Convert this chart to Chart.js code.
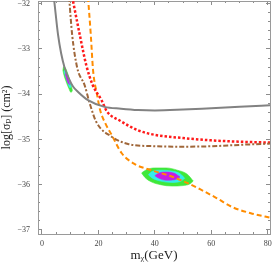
<!DOCTYPE html>
<html><head><meta charset="utf-8">
<script src="https://cdn.jsdelivr.net/npm/chart.js@4.4.0/dist/chart.umd.min.js"></script>
<style>html,body{margin:0;padding:0;background:#fff;}#c{display:block;}</style>
</head><body>
<canvas id="c" width="273" height="264"></canvas>
<script>
// ---- tick values ----
const xMajorTicks = [0, 20, 40, 60, 80];
const xMinorTicks = [0, 5, 10, 15, 20, 25, 30, 35, 40, 45, 50, 55, 60, 65, 70, 75, 80];
const yMajorTicks = [-37, -36, -35, -34, -33, -32];
const yMinorTicks = [-37, -36.8, -36.6, -36.4, -36.2, -36, -35.8, -35.6, -35.4, -35.2, -35,
  -34.8, -34.6, -34.4, -34.2, -34, -33.8, -33.6, -33.4, -33.2, -33, -32.8, -32.6, -32.4, -32.2, -32];

// ---- curves (mass in GeV, log sigma) ----
const grayMass = [4.2, 4.8, 5.7, 6.8, 8.05, 9.5, 11, 12.8, 16.3, 22.2, 28, 34, 40, 50, 60, 70, 81.5];
const grayLog  = [-31.85, -32.2, -32.69, -33.1, -33.42, -33.65, -33.83, -33.95, -34.13, -34.28, -34.32, -34.35, -34.36, -34.34, -34.31, -34.28, -34.24];

const brownMass = [9.6, 10.7, 12.5, 15.1, 16.9, 19.3, 24.7, 30.5, 40, 50, 60, 70, 81.5];
const brownLog  = [-31.85, -32.69, -33.42, -33.8, -34.2, -34.62, -34.94, -35.1, -35.15, -35.16, -35.15, -35.12, -35.09];

const redMass = [10.7, 13.4, 15.7, 18, 21, 23, 27.5, 34.1, 40.1, 50, 60, 70, 81.5];
const redLog  = [-31.85, -32.69, -33.36, -33.8, -34.12, -34.38, -34.58, -34.8, -34.9, -34.97, -35.02, -35.05, -35.07];

const orangeMass = [16.3, 17.3, 18.1, 19.5, 20.6, 22.5, 24.7, 28.2, 33, 37.7, 45, 50, 56, 62, 67.6, 74, 81.5];
const orangeLog  = [-31.85, -32.69, -33.47, -34.0, -34.35, -34.65, -34.9, -35.3, -35.55, -35.66, -35.8, -35.92, -36.1, -36.3, -36.5, -36.63, -36.74];

// ---- confidence regions: upper / lower boundaries ----
const bigGreenUpX = [35.3, 37, 40, 44, 48, 51.5, 53.6];
const bigGreenUpY = [-35.74, -35.67, -35.63, -35.63, -35.68, -35.77, -35.92];
const bigGreenLoX = [35.3, 36.5, 38.5, 42, 46, 50, 52.5, 53.6];
const bigGreenLoY = [-35.74, -35.84, -35.93, -36.0, -36.03, -36.02, -35.98, -35.92];
const bigCyanUpX = [37.7, 39, 42, 46, 49, 50.6];
const bigCyanUpY = [-35.78, -35.71, -35.68, -35.70, -35.76, -35.86];
const bigCyanLoX = [37.7, 39, 42, 46, 49, 50.6];
const bigCyanLoY = [-35.78, -35.85, -35.92, -35.95, -35.93, -35.86];
const bigMagUpX = [40, 41.5, 44, 47, 48.9];
const bigMagUpY = [-35.8, -35.74, -35.72, -35.75, -35.83];
const bigMagLoX = [40, 41.5, 44, 47, 48.9];
const bigMagLoY = [-35.8, -35.86, -35.9, -35.89, -35.83];

const smGreenUpX = [7.4, 7.7, 8.3, 9.2, 10.1, 10.8];
const smGreenUpY = [-33.47, -33.39, -33.42, -33.56, -33.75, -33.92];
const smGreenLoX = [7.4, 7.8, 8.6, 9.5, 10.3, 10.8];
const smGreenLoY = [-33.47, -33.58, -33.73, -33.87, -33.96, -33.92];
const smCyanUpX = [7.8, 8.1, 8.7, 9.5, 10.3];
const smCyanUpY = [-33.5, -33.46, -33.52, -33.66, -33.84];
const smCyanLoX = [7.8, 8.3, 9.1, 9.9, 10.3];
const smCyanLoY = [-33.5, -33.6, -33.74, -33.86, -33.84];
const smMagUpX = [8.2, 8.5, 9.1, 9.8];
const smMagUpY = [-33.55, -33.54, -33.62, -33.79];
const smMagLoX = [8.2, 8.7, 9.3, 9.8];
const smMagLoY = [-33.55, -33.66, -33.76, -33.79];

const X_MIN = -1.41, X_MAX = 80.8, Y_MIN = -37.09, Y_MAX = -31.94;
const SERIF = "'Liberation Serif', 'DejaVu Serif', serif";
const FRAME = '#9a9a9a';

const zip = (xs, ys) => xs.map((x, i) => ({x: x, y: ys[i]}));
const fmt = v => (v < 0 ? '\u2212' + Math.abs(v) : String(v));

const datasets = [];
function curve(xs, ys, color, dash, width) {
  datasets.push({data: zip(xs, ys), showLine: true, borderColor: color, borderWidth: width,
    borderDash: dash, pointRadius: 0, fill: false, cubicInterpolationMode: 'monotone', order: 0});
}
function region(ux, uy, lx, ly, color, order) {
  const idx = datasets.length;
  datasets.push({data: zip(ux, uy), showLine: true, borderColor: color, borderWidth: 0.6,
    backgroundColor: color, pointRadius: 0, fill: idx + 1, cubicInterpolationMode: 'monotone', order: order});
  datasets.push({data: zip(lx, ly), showLine: true, borderColor: color, borderWidth: 0.6,
    pointRadius: 0, fill: false, cubicInterpolationMode: 'monotone', order: order});
}
region(bigGreenUpX, bigGreenUpY, bigGreenLoX, bigGreenLoY, '#3fe83a', 30);
region(bigCyanUpX, bigCyanUpY, bigCyanLoX, bigCyanLoY, '#34ecec', 20);
region(bigMagUpX, bigMagUpY, bigMagLoX, bigMagLoY, '#c41ce6', 10);
region(smGreenUpX, smGreenUpY, smGreenLoX, smGreenLoY, '#3fe83a', 30);
region(smCyanUpX, smCyanUpY, smCyanLoX, smCyanLoY, '#34ecec', 20);
region(smMagUpX, smMagUpY, smMagLoX, smMagLoY, '#c41ce6', 10);
curve(grayMass, grayLog, '#828282', [], 2);
curve(brownMass, brownLog, '#a0673a', [5, 2, 2, 2], 2);
curve(redMass, redLog, '#ff1a1a', [2.5, 2], 2.5);
curve(orangeMass, orangeLog, '#ff8c00', [5, 3], 2);

function axis(pos, weight, size, ticksArr, tl, isX, labels, border) {
  const o = {
    type: 'linear', position: pos, weight: weight,
    min: isX ? X_MIN : Y_MIN, max: isX ? X_MAX : Y_MAX,
    afterFit: s => {
      if (isX) s.height = size; else s.width = size;
      s.paddingLeft = 0; s.paddingRight = 0; s.paddingTop = 0; s.paddingBottom = 0;
    },
    afterBuildTicks: s => { s.ticks = ticksArr.map(v => ({value: v})); },
    grid: {drawOnChartArea: false, drawTicks: true, tickLength: tl, color: '#8c8c8c', tickWidth: 1},
    border: {display: border, color: FRAME, width: 1},
    ticks: {display: labels, autoSkip: false, maxRotation: 0, minRotation: 0,
      font: {family: SERIF, size: 8}, color: '#444', callback: fmt}
  };
  return o;
}
const scales = {
  x: axis('bottom', 1, 30, xMajorTicks, -4, true, true, true),
  xMinor: axis('bottom', 0, 0, xMinorTicks, -2, true, false, false),
  xTop: axis('top', 1, 1, xMajorTicks, -4, true, false, true),
  xTopMinor: axis('top', 0, 0, xMinorTicks, -2, true, false, false),
  y: axis('left', 1, 38, yMajorTicks, -4, false, true, true),
  yMinor: axis('left', 0, 0, yMinorTicks, -2, false, false, false),
  yRight: axis('right', 1, 3, yMajorTicks, -4, false, false, true),
  yRightMinor: axis('right', 0, 0, yMinorTicks, -2, false, false, false)
};
scales.x.ticks.padding = 9;
scales.y.ticks.padding = 12;
scales.x.title = {display: true, text: 'm\u1D6A(GeV)', font: {family: SERIF, size: 13}, color: '#222', padding: {top: 0, bottom: 1}};
scales.y.title = {display: true, text: 'log[\u03C3\u209A] (cm\u00B2)', font: {family: SERIF, size: 12}, color: '#222', padding: {top: 0, bottom: 0}};

new Chart(document.getElementById('c'), {
  type: 'scatter',
  data: {datasets: datasets},
  options: {
    responsive: false, animation: false,
    layout: {padding: 0},
    plugins: {legend: {display: false}, tooltip: {enabled: false}},
    scales: scales
  }
});
</script>
</body></html>
